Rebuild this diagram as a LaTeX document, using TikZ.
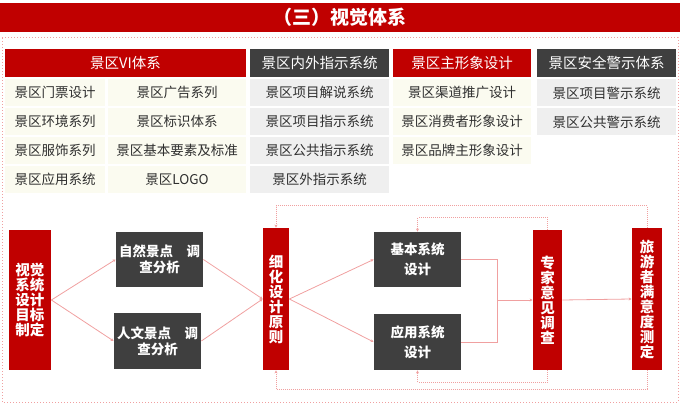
\documentclass[tikz,border=0pt]{standalone}
\usepackage{fontspec}
\newfontfamily\cjk{Noto Sans CJK SC}
\usetikzlibrary{arrows.meta}
\definecolor{vired}{HTML}{C00000}
\definecolor{vidark}{HTML}{3F3F3F}
\definecolor{vipink}{HTML}{F0A0A0}
\definecolor{viyellow}{HTML}{FBFBF0}
\definecolor{vigray}{HTML}{EFEFEF}
\definecolor{vitext}{HTML}{2F2F2F}
\newdimen\unit
\tikzset{unit/.code={\unit=\dimexpr#1\relax}}
\tikzset{xy/.style={x={#1},y={-#1},unit={#1},font={\cjk\fontsize{13.5\unit}{16\unit}\selectfont},line width=.8\unit}}
\tikzset{
    head/.style={fill=#1,text=white,minimum height=28\unit,inner sep=0pt,font={\cjk\fontsize{14.5\unit}{17\unit}\selectfont}},
    cell/.style={fill=#1,text=vitext,minimum height=27\unit,inner sep=0pt},
    darkbox/.style={fill=vidark,text=white,minimum width=87\unit,minimum height=55\unit,inner sep=0pt,align=center,font={\cjk\bfseries\fontsize{13.5\unit}{16\unit}\selectfont}},
    redbar/.style={fill=vired,text=white,inner sep=0pt,align=center,font={\cjk\bfseries\fontsize{14.5\unit}{15\unit}\selectfont}},
    link/.style={draw=vipink,line width=.8\unit,-{Stealth[length=3pt,width=3pt]}},
    feed/.style={draw=vipink,densely dotted,line width=1\unit,-{Stealth[length=3pt,width=3pt]}},
}

\begin{document}
\begin{tikzpicture}[xy=1pt]%
    \path [use as bounding box] (0,0) rectangle (680,406);
    \path (340,17.5) node [fill=vired,minimum width=680\unit,minimum height=29\unit,inner sep=0pt,text=white,font={\cjk\bfseries\fontsize{19\unit}{24\unit}\selectfont}] (title) {（三）视觉体系};
    \path [draw=vipink,dotted,line width=1\unit] (2,38) rectangle (678,402);
    % headers
    \path (125.5,63) node [head=vired,minimum width=241\unit] (vi) {景区VI体系};
    \path (319.5,63) node [head=vidark,minimum width=139\unit] (sign) {景区内外指示系统};
    \path (462,63) node [head=vired,minimum width=138\unit] (image) {景区主形象设计};
    \path (606.5,63) node [head=vidark,minimum width=139\unit] (safe) {景区安全警示体系};
    % cells
    \foreach \a/\b [count=\i] in {景区门票设计/景区广告系列,景区环境系列/景区标识体系,景区服饰系列/景区基本要素及标准,景区应用系统/景区LOGO} {
        \path (55,{92.5+29*(\i-1)}) node [cell=viyellow,minimum width=100\unit] (vi-l\i) {\a};
        \path (177,{92.5+29*(\i-1)}) node [cell=viyellow,minimum width=138\unit] (vi-r\i) {\b};
    }
    \foreach \t [count=\i] in {景区项目解说系统,景区项目指示系统,景区公共指示系统,景区外指示系统} {
        \path (319.5,{92.5+29*(\i-1)}) node [cell=vigray,minimum width=139\unit] (sign\i) {\t};
    }
    \foreach \t [count=\i] in {景区渠道推广设计,景区消费者形象设计,景区品牌主形象设计} {
        \path (462,{92.5+29*(\i-1)}) node [cell=viyellow,minimum width=138\unit] (image\i) {\t};
    }
    \foreach \t [count=\i] in {景区项目警示系统,景区公共警示系统} {
        \path (606.5,{93+29*(\i-1)}) node [cell=vigray,minimum width=139\unit] (safe\i) {\t};
    }
    % flow
    \path (30,300) node [redbar,minimum width=42\unit,minimum height=140\unit] (goal) {视觉\\系统\\设计\\目标\\制定};
    \path (159.5,259.5) node [darkbox] (nature) {自然景点　调\\查分析};
    \path (157.5,341) node [darkbox,minimum height=56\unit] (culture) {人文景点　调\\查分析};
    \path (276,299) node [redbar,minimum width=26\unit,minimum height=142\unit] (refine) {细\\化\\设\\计\\原\\则};
    \path (417.5,259.5) node [darkbox,font={\cjk\bfseries\fontsize{13.5\unit}{20\unit}\selectfont}] (basic) {基本系统\\设计};
    \path (417.5,342) node [darkbox,minimum height=56\unit,font={\cjk\bfseries\fontsize{13.5\unit}{20\unit}\selectfont}] (applied) {应用系统\\设计};
    \path (547.5,300) node [redbar,minimum width=29\unit,minimum height=140\unit] (expert) {专\\家\\意\\见\\调\\查};
    \path (647,299) node [redbar,minimum width=30\unit,minimum height=142\unit] (tourist) {旅\\游\\者\\满\\意\\度\\测\\定};
    \coordinate (join) at (497,300);
    \path [link] (goal.east) -- (nature.west);
    \path [link] (goal.east) -- (culture.west);
    \path [link] (nature.east) -- (refine.west);
    \path [link] (culture.east) -- (refine.west);
    \path [link] (refine.east) -- (basic.west);
    \path [link] (refine.east) -- (applied.west);
    \path [link,-] (basic.east) -| (join);
    \path [link,-] (applied.east) -| (join);
    \path [link] (join) -- (expert.west);
    \path [link] (expert.east) -- (tourist.west);
    % feedback loops
    \path [feed] (expert.north) -- ++(0,-12) -| (basic.north);
    \path [feed] (expert.south) -- ++(0,12) -| (applied.south);
    \path [feed] (tourist.north) -- ++(0,-22) -| (refine.north);
    \path [feed] (tourist.south) -- ++(0,19) -| (refine.south);
\end{tikzpicture}
\end{document}
